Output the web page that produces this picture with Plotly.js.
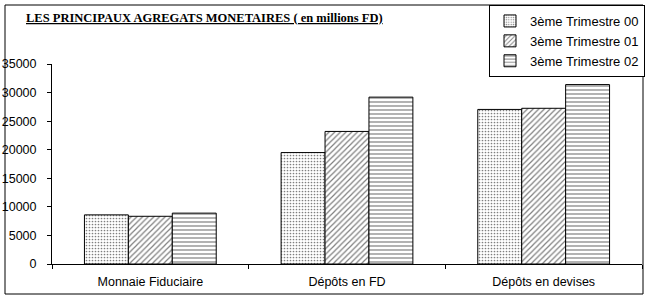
<!DOCTYPE html>
<html><head><meta charset="utf-8">
<script src="https://cdn.plot.ly/plotly-3.0.1.min.js"></script>
<style>html,body{margin:0;padding:0;background:#fff}</style>
</head><body>
<div id="chart" style="width:648px;height:300px"></div>
<script>
const categories = ["Monnaie Fiduciaire", "Dépôts en FD", "Dépôts en devises"];
const seriesNames = ["3ème Trimestre 00", "3ème Trimestre 01", "3ème Trimestre 02"];
const t00 = [8600, 19500, 27050];
const t01 = [8350, 23200, 27250];
const t02 = [8900, 29200, 31400];
const yTicks = [0, 5000, 10000, 15000, 20000, 25000, 30000, 35000];

const patterns = [
  {shape: ".", size: 3, solidity: 0.25},
  {shape: "/", size: 4, solidity: 0.3},
  {shape: "-", size: 4, solidity: 0.3}
];
const values = [t00, t01, t02];
const traces = values.map((v, i) => ({
  type: "bar",
  name: seriesNames[i],
  x: categories,
  y: v,
  marker: {
    color: "#ffffff",
    line: {color: "#000000", width: 1},
    pattern: Object.assign({fgcolor: "#000000", bgcolor: "#ffffff", fillmode: "overlay"}, patterns[i])
  },
  hoverinfo: "skip"
}));

const L = 52, R = 642, T = 64, B = 264;
const W = R - L, H = B - T;
const px = x => (x - L) / W;
const py = y => (B - y) / H;

const layout = {
  width: 648, height: 300,
  margin: {l: L, r: 648 - R, t: T, b: 300 - B, autoexpand: false},
  paper_bgcolor: "#ffffff", plot_bgcolor: "#ffffff",
  barmode: "group", bargap: 0.33, bargroupgap: 0,
  showlegend: true,
  font: {family: "Arial, Liberation Sans, sans-serif", size: 12, color: "#000"},
  legend: {
    x: px(489), y: py(5), xanchor: "left", yanchor: "top",
    bordercolor: "#000", borderwidth: 1, bgcolor: "#fff",
    font: {family: "Arial, Liberation Sans, sans-serif", size: 13, color: "#000"},
    traceorder: "normal", tracegroupgap: 0
  },
  xaxis: {
    type: "category", showline: true, linecolor: "#000", linewidth: 1,
    ticks: "outside", tickson: "boundaries", ticklen: 4, tickcolor: "#000",
    showgrid: false, zeroline: false, ticklabelstandoff: 6,
    tickfont: {size: 12.5, color: "#000"}
  },
  yaxis: {
    range: [0, 35000], tickvals: yTicks, ticktext: yTicks.map(String),
    showline: true, linecolor: "#000", linewidth: 1,
    ticks: "outside", ticklen: 4, tickcolor: "#000",
    showgrid: false, zeroline: false, ticklabelstandoff: 8,
    tickfont: {size: 12.5, color: "#000"}
  },
  annotations: [{
    text: "<b><u>LES PRINCIPAUX AGREGATS MONETAIRES ( en millions FD)</u></b>",
    xref: "paper", yref: "paper", x: px(24), y: py(18),
    xanchor: "left", yanchor: "middle", showarrow: false,
    font: {family: "Liberation Serif, Times New Roman, serif", size: 12.5, color: "#000"}
  }],
  shapes: [{
    type: "rect", xref: "paper", yref: "paper",
    x0: px(5), x1: px(643), y0: py(294), y1: py(5),
    line: {color: "#000", width: 1}, fillcolor: "rgba(0,0,0,0)", layer: "above"
  }]
};

Plotly.newPlot("chart", traces, layout, {staticPlot: true, displayModeBar: false});
</script>
</body></html>
